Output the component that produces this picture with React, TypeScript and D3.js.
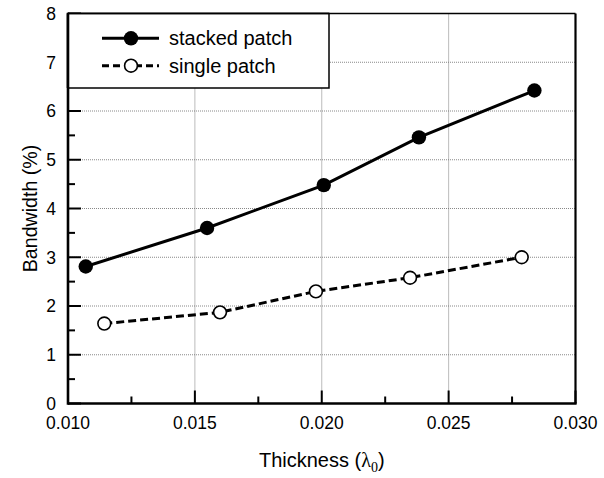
import React from "react";
import * as d3 from "d3";

const stackedX = [0.0107, 0.01548, 0.02008, 0.02383, 0.02838];
const stackedY = [2.81, 3.6, 4.48, 5.46, 6.42];
const singleX = [0.01143, 0.01599, 0.01977, 0.02348, 0.02788];
const singleY = [1.64, 1.87, 2.3, 2.58, 3.0];
const xTicks = [0.01, 0.015, 0.02, 0.025, 0.03];
const xMinor = [0.0125, 0.0175, 0.0225, 0.0275];
const yTicks = [0, 1, 2, 3, 4, 5, 6, 7, 8];
const yMinor = [0.5, 1.5, 2.5, 3.5, 4.5, 5.5, 6.5, 7.5];
const legendLabels = ["stacked patch", "single patch"];

const W = 604;
const H = 478;
const L = 68;
const R = 575.5;
const T = 13.5;
const B = 403.5;
const FONT = "Arial, 'Liberation Sans', Helvetica, sans-serif";

export default function App() {
  const x = d3.scaleLinear().domain([0.01, 0.03]).range([L, R]);
  const y = d3.scaleLinear().domain([0, 8]).range([B, T]);
  const line = d3
    .line<[number, number]>()
    .x((d) => x(d[0]))
    .y((d) => y(d[1]));
  const sPts: [number, number][] = stackedX.map((v, i) => [v, stackedY[i]]);
  const gPts: [number, number][] = singleX.map((v, i) => [v, singleY[i]]);

  const legX0 = 102;
  const legX1 = 159;
  const legMx = 131;
  const legY = [38.3, 65.7];

  return (
    <svg width={W} height={H} style={{ display: "block", position: "absolute", left: 0, top: 0 }} fontFamily={FONT}>
      <rect x={0} y={0} width={W} height={H} fill="white" />
      {/* gridlines */}
      {yTicks.slice(1, -1).map((t) => (
        <line key={"gy" + t} x1={L} x2={R} y1={y(t)} y2={y(t)} stroke="#888" strokeWidth={1} strokeDasharray="1,1" />
      ))}
      {xTicks.slice(1, -1).map((t) => (
        <line key={"gx" + t} x1={x(t)} x2={x(t)} y1={T} y2={B} stroke="#777" strokeWidth={1} strokeDasharray="1,1" />
      ))}
      {/* ticks */}
      {yTicks.map((t) => (
        <line key={"ty" + t} x1={L} x2={L + 13} y1={y(t)} y2={y(t)} stroke="black" strokeWidth={2} />
      ))}
      {yMinor.map((t) => (
        <line key={"tym" + t} x1={L} x2={L + 7} y1={y(t)} y2={y(t)} stroke="black" strokeWidth={2} />
      ))}
      {xTicks.map((t) => (
        <line key={"tx" + t} x1={x(t)} x2={x(t)} y1={B} y2={B - 13} stroke="black" strokeWidth={2} />
      ))}
      {xMinor.map((t) => (
        <line key={"txm" + t} x1={x(t)} x2={x(t)} y1={B} y2={B - 7} stroke="black" strokeWidth={2} />
      ))}
      {/* frame */}
      <line x1={L} x2={R} y1={T} y2={T} stroke="black" strokeWidth={1.5} />
      <line x1={R} x2={R} y1={T} y2={B} stroke="black" strokeWidth={2.2} />
      <line x1={L} x2={L} y1={T - 0.75} y2={B + 1.25} stroke="black" strokeWidth={2.6} />
      <line x1={L} x2={R + 1.1} y1={B} y2={B} stroke="black" strokeWidth={2.4} />
      {/* data */}
      <path d={line(gPts) || ""} fill="none" stroke="black" strokeWidth={3} strokeDasharray="8,4" />
      <path d={line(sPts) || ""} fill="none" stroke="black" strokeWidth={3} />
      {sPts.map((p, i) => (
        <circle key={"s" + i} cx={x(p[0])} cy={y(p[1])} r={7.2} fill="black" />
      ))}
      {gPts.map((p, i) => (
        <circle key={"g" + i} cx={x(p[0])} cy={y(p[1])} r={6.4} fill="white" stroke="black" strokeWidth={1.6} />
      ))}
      {/* legend */}
      <rect x={L} y={T} width={329 - L} height={88 - T} fill="white" stroke="black" strokeWidth={1.5} />
      <line x1={L} x2={L} y1={T} y2={88} stroke="black" strokeWidth={2.6} />
      <line x1={L} x2={329} y1={T} y2={T} stroke="black" strokeWidth={1.5} />
      <line x1={legX0} x2={legX1} y1={legY[0]} y2={legY[0]} stroke="black" strokeWidth={3} />
      <circle cx={legMx} cy={legY[0]} r={7.2} fill="black" />
      <line x1={legX0} x2={legX1} y1={legY[1]} y2={legY[1]} stroke="black" strokeWidth={3} strokeDasharray="7,4" />
      <circle cx={legMx} cy={legY[1]} r={6.4} fill="white" stroke="black" strokeWidth={1.6} />
      {legendLabels.map((lab, i) => (
        <text key={lab} x={169} y={legY[i] + 6.8} fontSize={20} fill="black">
          {lab}
        </text>
      ))}
      {/* tick labels */}
      {yTicks.map((t) => (
        <text key={"ly" + t} x={56} y={y(t) + 6.3} fontSize={17.5} textAnchor="end" fill="black">
          {t}
        </text>
      ))}
      {xTicks.map((t) => (
        <text key={"lx" + t} x={x(t)} y={429} fontSize={17.5} textAnchor="middle" fill="black">
          {d3.format(".3f")(t)}
        </text>
      ))}
      {/* axis titles */}
      <text x={(L + R) / 2} y={466.7} fontSize={20} textAnchor="middle" fill="black">
        Thickness (
        <tspan fontFamily="'Liberation Serif', 'Times New Roman', serif">λ</tspan>
        <tspan fontFamily="'Liberation Serif', 'Times New Roman', serif" fontSize={14} dy={5}>0</tspan>
        <tspan dy={-5}>)</tspan>
      </text>
      <text
        transform={`translate(37.3, ${(T + B) / 2}) rotate(-90)`}
        x={0}
        y={0}
        fontSize={19.6}
        textAnchor="middle"
        fill="black"
      >
        Bandwidth (%)
      </text>
    </svg>
  );
}
